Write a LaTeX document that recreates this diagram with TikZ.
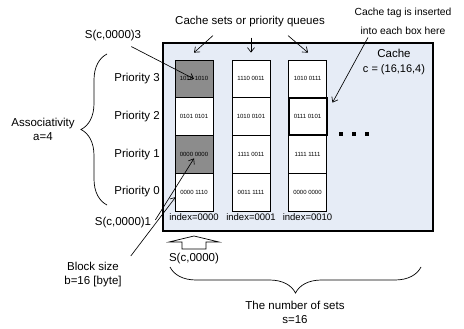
\documentclass[tikz,border=0pt]{standalone}
\usepackage{fontspec}
\setmainfont{Liberation Sans}
\usepackage{tikz}
\usetikzlibrary{decorations.pathreplacing, arrows.meta}

\definecolor{cachebg}{RGB}{230,236,246}
\definecolor{tagfill}{RGB}{140,140,140}

\begin{document}
\begin{tikzpicture}[x=1pt, y=-1pt,
        lbl/.style={inner sep=0pt, font=\fontsize{11.5}{14}\selectfont},
        cell/.style={draw, fill=white, line width=0.8pt, minimum width=38pt,
            minimum height=37.75pt, inner sep=0pt, font=\fontsize{6}{7}\selectfont},
        hit/.style={cell, fill=tagfill},
        idx/.style={inner sep=0pt, font=\fontsize{9.5}{11}\selectfont},
        ptr/.style={-{Straight Barb[length=4.5pt, width=7pt]}, line width=0.65pt},
        curly/.style={decorate, decoration={brace, amplitude=26pt}, line width=0.7pt}]
        \useasboundingbox (0,0) rectangle (464,329);
        % the cache
        \draw[line width=2.6pt, fill=cachebg] (163,43) rectangle (433,231);
        \node[lbl, align=center] (cachelbl) at (394,62) {Cache\\[1pt]\fontsize{11}{12}\selectfont c = (16,16,4)};
        % set 0000
        \node[hit] (c1r3) at (194,78.9) {1010 1010};
        \node[cell] (c1r2) at (194,116.6) {0101 0101};
        \node[hit] (c1r1) at (194,154.4) {0000 0000};
        \node[cell] (c1r0) at (194,192.1) {0000 1110};
        % set 0001
        \node[cell] (c2r3) at (251,78.9) {1110 0011};
        \node[cell] (c2r2) at (251,116.6) {1010 0101};
        \node[cell] (c2r1) at (251,154.4) {1111 0011};
        \node[cell] (c2r0) at (251,192.1) {0011 1111};
        % set 0010
        \node[cell] (c3r3) at (307.5,78.9) {1010 0111};
        \node[cell, line width=2pt] (c3r2) at (307.5,116.6) {0111 0101};
        \node[cell] (c3r1) at (307.5,154.4) {1111 1111};
        \node[cell] (c3r0) at (307.5,192.1) {0000 0000};
        \node[idx] (i1) at (194,217) {index=0000};
        \node[idx] (i2) at (251,217) {index=0001};
        \node[idx] (i3) at (307.5,217) {index=0010};
        \fill (338.7,132) rectangle ++(4,4);
        \fill (352,132) rectangle ++(4,4);
        \fill (365.3,132) rectangle ++(4,4);
        % priorities
        \node[lbl, anchor=east] (p3) at (160,79) {Priority 3};
        \node[lbl, anchor=east] (p2) at (160,117) {Priority 2};
        \node[lbl, anchor=east] (p1) at (160,155) {Priority 1};
        \node[lbl, anchor=east] (p0) at (160,192) {Priority 0};
        \draw[curly] (107,205) -- (107,54);
        \node[lbl, align=center] (assoc) at (43,129.5) {Associativity\\a=4};
        % labels with pointers
        \node[lbl] (title) at (250,22) {Cache sets or priority queues};
        \draw[ptr] ([xshift=-37pt,yshift=-8pt]title.south) -- ([yshift=7pt]c1r3.north);
        \draw[ptr] ([xshift=1pt,yshift=-10pt]title.south) -- ([yshift=7pt]c2r3.north);
        \draw[ptr] ([xshift=38pt,yshift=-8pt]title.south) -- ([yshift=7pt,xshift=0.5pt]c3r3.north);
        \node[lbl, align=center, font=\fontsize{10.3}{19}\selectfont] (tag) at (403,21) {Cache tag is inserted\\into each box here};
        \draw[ptr] ([xshift=-35pt,yshift=-3pt]tag.south) -- ([xshift=5pt,yshift=14pt]c3r2.east);
        \node[lbl] (s3) at (113,36) {S(c,0000)3};
        \draw[ptr] ([xshift=-10pt,yshift=-5pt]s3.south east) -- (c1r3.center);
        \node[lbl] (s1) at (123,223) {S(c,0000)1};
        \draw[ptr] ([xshift=4pt,yshift=3pt]s1.east) -- ([yshift=-4pt]c1r1.center);
        \node[lbl, align=center] (blk) at (93,274.5) {Block size\\b=16 [byte]};
        \draw[ptr] ([xshift=9pt,yshift=6pt]blk.north east) -- ([xshift=1pt,yshift=-5pt]c1r0.west);
        % the set pointer
        \draw[line width=0.7pt] (169,242) -- (194,236) -- (219,242) -- (206,242) -- (206,249)
            -- (182,249) -- (182,242) -- cycle;
        \node[lbl] (s0) at (194,259) {S(c,0000)};
        \draw[curly] (421,267) -- (170,267);
        \node[lbl, align=center] (nsets) at (295,312) {The number of sets\\s=16};
    \end{tikzpicture}
\end{document}
